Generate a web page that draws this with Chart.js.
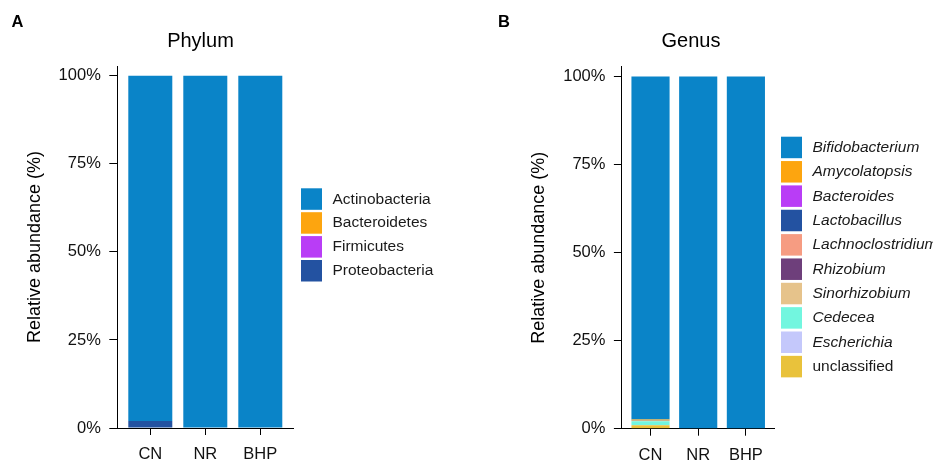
<!DOCTYPE html>
<html>
<head>
<meta charset="UTF-8">
<title>Relative abundance</title>
<script src="https://cdn.jsdelivr.net/npm/chart.js"></script>
<style>
  html, body { margin: 0; padding: 0; background: #fff; overflow: hidden; }
  #wrap { position: relative; width: 933px; height: 463px; }
  canvas { position: absolute; top: 0; }
</style>
</head>
<body>
<div id="wrap">
  <canvas id="phylumChart" width="466" height="463" style="left:0"></canvas>
  <canvas id="genusChart" width="467" height="463" style="left:466px"></canvas>
</div>
<script>
// samples and axis ticks
const samples = ["CN", "NR", "BHP"];
const yTicks = [0, 25, 50, 75, 100];

// phylum level (%)
const phylumNames = ["Actinobacteria", "Bacteroidetes", "Firmicutes", "Proteobacteria"];
const phylumColors = ["#0A84C8", "#FDA50F", "#B93DF6", "#2352A1"];
const actinobacteria = [98.0, 100, 100];
const bacteroidetes = [0, 0, 0];
const firmicutes = [0, 0, 0];
const proteobacteria = [2.0, 0, 0];

// genus level (%)
const genusNames = ["Bifidobacterium", "Amycolatopsis", "Bacteroides", "Lactobacillus",
  "Lachnoclostridium", "Rhizobium", "Sinorhizobium", "Cedecea", "Escherichia", "unclassified"];
const genusItalic = [true, true, true, true, true, true, true, true, true, false];
const genusColors = ["#0A84C8", "#FDA50F", "#B93DF6", "#2352A1", "#F69C82",
  "#6E3F7B", "#E6C38B", "#72F6DF", "#C4C8FB", "#E9C23B"];
const bifidobacterium = [97.4, 100, 100];
const amycolatopsis = [0.3, 0, 0];
const bacteroides = [0, 0, 0];
const lactobacillus = [0.05, 0, 0];
const lachnoclostridium = [0, 0, 0];
const rhizobium = [0, 0, 0];
const sinorhizobium = [0.1, 0, 0];
const cedecea = [1.1, 0, 0];
const escherichia = [0.05, 0, 0];
const unclassified = [1.0, 0, 0];

const FONT = '"Liberation Sans", Arial, sans-serif';

// panel letter, title and legend
const decor = {
  id: 'decor',
  afterDraw(chart, args, o) {
    const ctx = chart.ctx;
    ctx.save();
    ctx.fillStyle = '#000';
    ctx.textBaseline = 'alphabetic';
    ctx.textAlign = 'left';
    ctx.font = 'bold 16.5px ' + FONT;
    ctx.fillText(o.letter, o.letterX, 26.5);
    ctx.textAlign = 'center';
    ctx.font = '20px ' + FONT;
    ctx.fillText(o.title, o.titleX, 46.5);

    ctx.textAlign = 'left';
    ctx.textBaseline = 'middle';
    o.names.forEach((name, i) => {
      const y = o.legendY + i * o.legendStep;
      ctx.fillStyle = o.colors[i];
      ctx.fillRect(o.legendX, y, 21, 21.5);
      ctx.fillStyle = '#1a1a1a';
      ctx.font = (o.italic && o.italic[i] ? 'italic ' : '') + '15.5px ' + FONT;
      ctx.fillText(name, o.legendX + 31.5, y + 11);
    });
    ctx.restore();
  }
};

function makeChart(id, names, colors, series, geo) {
  // first dataset is drawn at the bottom of the stack
  const datasets = names.map((n, i) => ({
    label: n,
    data: series[i].map((v, j) => ({ x: j + 1, y: v })),
    backgroundColor: colors[i],
    borderWidth: 0,
    barPercentage: 0.8,
    categoryPercentage: 1
  })).reverse();

  return new Chart(document.getElementById(id), {
    type: 'bar',
    data: { datasets: datasets },
    plugins: [decor],
    options: {
      responsive: false,
      animation: false,
      devicePixelRatio: 1,
      layout: { padding: { left: 0, top: geo.top, right: geo.right, bottom: 0 } },
      plugins: {
        legend: { display: false },
        tooltip: { enabled: false },
        decor: geo.decor
      },
      scales: {
        x: {
          type: 'linear',
          stacked: true,
          offset: false,
          min: 0.4,
          max: 3.6,
          afterBuildTicks: s => { s.ticks = samples.map((c, i) => ({ value: i + 1 })); },
          afterFit: s => { s.height = geo.xHeight; },
          grid: { display: true, offset: false, drawOnChartArea: false, drawTicks: true, tickLength: 7, color: '#000', lineWidth: 1 },
          border: { display: true, color: '#000', width: 1 },
          ticks: {
            autoSkip: false, maxRotation: 0, padding: 10, color: '#111',
            font: { family: FONT, size: 16.5 },
            callback: v => samples[Math.round(v) - 1]
          }
        },
        y: {
          stacked: true,
          min: 0,
          max: 102.8,
          afterBuildTicks: s => { s.ticks = yTicks.map(v => ({ value: v })); },
          afterFit: s => { s.width = geo.yWidth; },
          grid: { display: true, drawOnChartArea: false, drawTicks: true, tickLength: 8, color: '#000', lineWidth: 1 },
          border: { display: true, color: '#000', width: 1 },
          ticks: {
            padding: 8.5, color: '#111',
            font: { family: FONT, size: 16.5 },
            callback: v => v + '%'
          },
          title: {
            display: true,
            text: 'Relative abundance (%)',
            color: '#000',
            font: { family: FONT, size: 18 },
            padding: { top: geo.yTitlePad, bottom: 0 }
          }
        }
      }
    }
  });
}

makeChart('phylumChart', phylumNames, phylumColors,
  [actinobacteria, bacteroidetes, firmicutes, proteobacteria], {
    top: 66, right: 172.7, xHeight: 35, yWidth: 117.3, yTitlePad: 24.5,
    decor: {
      letter: 'A', letterX: 11.5, title: 'Phylum', titleX: 200.5,
      names: phylumNames, colors: phylumColors,
      legendX: 301, legendY: 188.3, legendStep: 23.9
    }
  });

makeChart('genusChart', genusNames, genusColors,
  [bifidobacterium, amycolatopsis, bacteroides, lactobacillus, lachnoclostridium,
   rhizobium, sinorhizobium, cedecea, escherichia, unclassified], {
    top: 66.7, right: 158.5, xHeight: 34.3, yWidth: 155.9, yTitlePad: 62,
    decor: {
      letter: 'B', letterX: 32, title: 'Genus', titleX: 225,
      names: genusNames, colors: genusColors, italic: genusItalic,
      legendX: 315, legendY: 136.7, legendStep: 24.35
    }
  });
</script>
</body>
</html>
